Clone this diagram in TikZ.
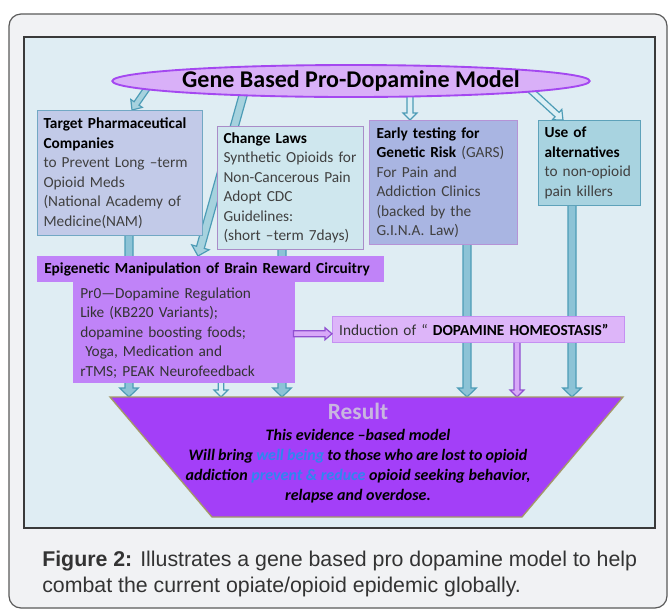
\documentclass[tikz,border=0pt]{standalone}
\usepackage{fontspec}
\setmainfont{Carlito}
\newfontfamily\capfont{Liberation Sans}
\usetikzlibrary{calc,shapes.geometric}
\pgfdeclarelayer{back}
\pgfdeclarelayer{arr}
\pgfsetlayers{back,arr,main}
\definecolor{frameBG}{HTML}{F1F2F4}
\definecolor{frameLn}{HTML}{5A5A5A}
\definecolor{panelBG}{HTML}{DFEDF3}
\definecolor{panelLn}{HTML}{3A3A3A}
\definecolor{ellFill}{HTML}{D9B0F8}
\definecolor{ellLn}{HTML}{A448F0}
\definecolor{bAfill}{HTML}{C2CAE8}
\definecolor{bAln}{HTML}{72A8C4}
\definecolor{bBfill}{HTML}{CFE7EE}
\definecolor{bBln}{HTML}{A98CC8}
\definecolor{bCfill}{HTML}{A9B5E2}
\definecolor{bCln}{HTML}{B593D6}
\definecolor{bDfill}{HTML}{A8D3E0}
\definecolor{bDln}{HTML}{5EA2BA}
\definecolor{epiFill}{HTML}{C083F8}
\definecolor{indFill}{HTML}{DDB5F9}
\definecolor{indLn}{HTML}{C590F2}
\definecolor{resFill}{HTML}{A33FF8}
\definecolor{resLn}{HTML}{A49868}
\definecolor{resTitle}{HTML}{C9B5E0}
\definecolor{blueTxt}{HTML}{2E86F0}
\definecolor{txtGrey}{HTML}{404040}
\definecolor{tealFill}{HTML}{8CC3D6}
\definecolor{tealLite}{HTML}{A6D2DE}
\definecolor{tealPale}{HTML}{DCEFF5}
\definecolor{tealLn}{HTML}{4D9CB6}
\definecolor{purpArrFill}{HTML}{D8A8F8}
\definecolor{purpArrLn}{HTML}{9050D0}
\definecolor{capTxt}{HTML}{333333}
% block arrow: #1 start, #2 end, #3 half shaft, #4 half head, #5 head length, #6 style
\newcommand\blockarr[6]{%
  \coordinate (ba-h) at ($(#2)!#5!(#1)$);
  \filldraw[#6] ($(#1)!#3!90:(#2)$) -- ($(ba-h)!#3!90:(#2)$) -- ($(ba-h)!#4!90:(#2)$) -- (#2)
     -- ($(ba-h)!#4!-90:(#2)$) -- ($(ba-h)!#3!-90:(#2)$) -- ($(#1)!#3!-90:(#2)$) -- cycle;}
\tikzset{
  boxnode/.style={draw, line width=0.8pt, anchor=north west, align=left, inner ysep=0pt,
    font=\fontsize{11.5}{14.6}\selectfont, text=txtGrey},
  tealthick/.style={fill=tealFill, draw=tealLn, line width=0.9pt},
  teallite/.style={fill=tealLite, draw=tealLn, line width=0.9pt},
  tealpale/.style={fill=tealPale, draw=tealLn, line width=0.9pt},
  purparr/.style={fill=purpArrFill, draw=purpArrLn, line width=0.9pt},
}
\begin{document}
\begin{tikzpicture}[x=0.75pt,y=-0.75pt]
\useasboundingbox (0,0) rectangle (669,612);
\begin{pgfonlayer}{back}
  \fill[white] (0,0) rectangle (669,612);
  \draw[fill=frameBG, draw=frameLn, line width=0.9pt, rounded corners=9pt] (9,14) rectangle (667,608);
  \draw[fill=panelBG, draw=panelLn, line width=0.8pt] (24,37) rectangle (655,528);
\end{pgfonlayer}

% title ellipse
\node[ellipse, draw=ellLn, fill=ellFill, line width=1.4pt, minimum width=321pt, minimum height=24pt, inner sep=0pt,
  font=\fontsize{18}{20}\selectfont\bfseries] (gene) at (351,81) {Gene Based Pro-Dopamine Model};

% boxes
\node[boxnode, fill=bAfill, draw=bAln, minimum width=123.75pt, minimum height=93.75pt, text width=114.75pt, inner xsep=4.5pt]
  (tp) at (37,110) {\textcolor{black}{\bfseries Target Pharmaceutical}\\\textcolor{black}{\bfseries Companies}\\to Prevent Long –term\\Opioid Meds\\(National Academy of\\Medicine(NAM)};
\node[boxnode, fill=bBfill, draw=bBln, minimum width=109.5pt, minimum height=92.25pt, text width=100.5pt, inner xsep=4.5pt]
  (cl) at (217,126) {\textcolor{black}{\bfseries Change Laws}\\Synthetic Opioids for\\Non-Cancerous Pain\\Adopt CDC\\Guidelines:\\(short –term 7days)};
\node[boxnode, fill=bCfill, draw=bCln, minimum width=111pt, minimum height=93pt, text width=100.5pt, inner xsep=5.25pt]
  (et) at (369,120) {\textcolor{black}{\bfseries Early testing for}\\\textcolor{black}{\bfseries Genetic Risk} (GARS)\\For Pain and\\Addiction Clinics\\(backed by the\\G.I.N.A. Law)};
\node[boxnode, fill=bDfill, draw=bDln, minimum width=76.5pt, minimum height=63.75pt, text width=67.5pt, inner xsep=4.5pt]
  (ua) at (538,120) {\textcolor{black}{\bfseries Use of}\\\textcolor{black}{\bfseries alternatives}\\to non-opioid\\pain killers};

% epigenetic block
\node[anchor=north west, fill=epiFill, minimum width=260.25pt, minimum height=19.5pt, inner xsep=5.25pt, inner ysep=0pt,
  text width=249.75pt, align=left, font=\fontsize{11.5}{13}\selectfont\bfseries] (epih) at (37,256)
  {Epigenetic Manipulation of Brain Reward Circuitry};
\node[anchor=north west, fill=epiFill, minimum width=166.5pt, minimum height=75.75pt, inner xsep=5.25pt, inner ysep=0pt,
  text width=156pt, align=left, font=\fontsize{11.5}{14.6}\selectfont, text=black!80] (epib) at (73,282)
  {Pr0—Dopamine Regulation\\Like (KB220 Variants);\\dopamine boosting foods;\\\ Yoga, Medication and\\rTMS; PEAK Neurofeedback};

% induction box
\node[anchor=north west, fill=indFill, draw=indLn, line width=0.8pt, minimum width=219pt, minimum height=19.5pt,
  inner xsep=5pt, inner ysep=0pt, text width=209pt, align=left, font=\fontsize{11.5}{13}\selectfont, text=black!80] (ind) at (332,316)
  {Induction of “ \textcolor{black}{\bfseries DOPAMINE HOMEOSTASIS”}};

% result trapezoid
\coordinate (resTL) at (110,397);
\coordinate (resTR) at (623,397);
\coordinate (resBR) at (522,517);
\coordinate (resBL) at (212,517);
\filldraw[fill=resFill, draw=resLn, line width=1pt] (resTL) -- (resTR) -- (resBR) -- (resBL) -- cycle;
\node[font=\fontsize{17.5}{19}\selectfont\bfseries, text=resTitle, inner sep=0pt] (restitle) at (358,411) {Result};
\node[font=\fontsize{12}{15}\selectfont\bfseries\itshape, align=center, inner sep=0pt, text=black] (restext) at (358,466)
  {This evidence –based model\\\makebox[254pt][s]{Will bring \textcolor{blueTxt}{well being} to those who are lost to opioid}\\addiction \textcolor{blueTxt}{prevent \& reduce} opioid seeking behavior,\\relapse and overdose.};

% caption
\node[anchor=west, align=left, inner sep=0pt, text=capTxt, font=\capfont\fontsize{16}{19.5}\selectfont] (cap) at (42,574)
  {\textbf{Figure 2:} Illustrates a gene based pro dopamine model to help\\combat the current opiate/opioid epidemic globally.};

% connectors
\coordinate (a1s) at ($(gene.center)+(-201,3)$);
\coordinate (a1e) at ($(tp.north west)+(95,0)$);
\coordinate (a2s) at ($(gene.center)+(-107,11)$);
\coordinate (a2e) at ($(epih.north west)+(161,0)$);
\coordinate (a3s) at ($(gene.center)+(59,12)$);
\coordinate (a3e) at ($(et.north west)+(41,0)$);
\coordinate (a4s) at ($(gene.center)+(177,7)$);
\coordinate (a4e) at ($(ua.north west)+(25,0)$);
\coordinate (a5s) at ($(tp.south west)+(92,-2)$);
\coordinate (a5e) at (a5s |- resTL);
\coordinate (a6s) at ($(cl.south west)+(65,-2)$);
\coordinate (a6e) at (a6s |- resTL);
\coordinate (a7s) at ($(epib.south west)+(148,-2)$);
\coordinate (a7e) at (a7s |- resTL);
\coordinate (a8s) at ($(et.south west)+(98,-2)$);
\coordinate (a8e) at (a8s |- resTL);
\coordinate (a9s) at ($(ua.south west)+(34,-2)$);
\coordinate (a9e) at (a9s |- resTL);
\coordinate (a10s) at ($(ind.south west)+(185,-2)$);
\coordinate (a10e) at (a10s |- resTL);
\coordinate (a11s) at ($(epib.east)+(-2,1)$);
\coordinate (a11e) at (a11s -| ind.west);
\begin{pgfonlayer}{arr}
  \blockarr{a1s}{a1e}{2.25pt}{5.25pt}{6pt}{teallite}
  \blockarr{a2s}{a2e}{3pt}{6.75pt}{6.75pt}{teallite}
  \blockarr{a3s}{a3e}{2.25pt}{5.25pt}{5.25pt}{tealpale}
  \blockarr{a4s}{a4e}{2.25pt}{5.25pt}{6pt}{tealpale}
  \blockarr{a5s}{a5e}{3pt}{7pt}{6.75pt}{tealthick}
  \blockarr{a6s}{a6e}{3pt}{7pt}{6.75pt}{tealthick}
  \blockarr{a7s}{a7e}{2pt}{5.25pt}{5.25pt}{tealpale}
  \blockarr{a8s}{a8e}{3pt}{7pt}{6.75pt}{tealthick}
  \blockarr{a9s}{a9e}{3pt}{7pt}{6.75pt}{tealthick}
  \blockarr{a10s}{a10e}{2.25pt}{5.25pt}{5.25pt}{purparr}
\end{pgfonlayer}
\blockarr{a11s}{a11e}{2.25pt}{4.5pt}{5.25pt}{purparr}
\end{tikzpicture}
\end{document}
